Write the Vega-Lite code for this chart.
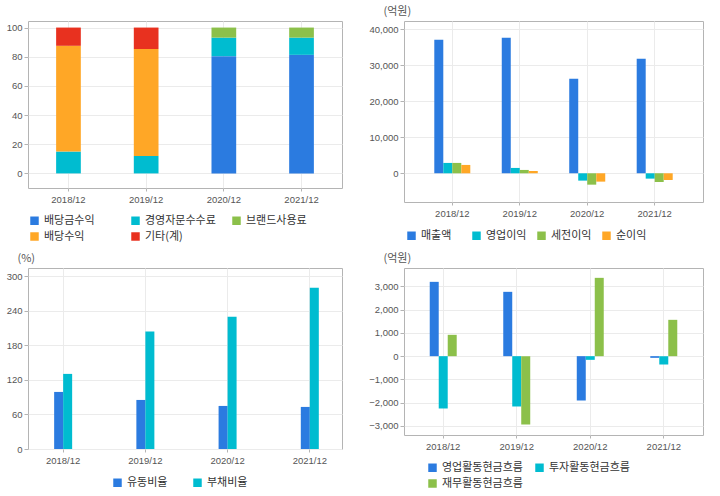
{
  "$schema": "https://vega.github.io/schema/vega-lite/v6.json",
  "background": "white",
  "padding": {"left": 5, "top": 4, "right": 5, "bottom": 0},
  "columns": 2,
  "spacing": {"row": 8, "column": 25},
  "datasets": {
    "rev": [
      {"period": "2018/12", "series": "경영자문수수료", "value": 15.0},
      {"period": "2018/12", "series": "배당수익", "value": 72.5},
      {"period": "2018/12", "series": "기타(계)", "value": 12.5},
      {"period": "2019/12", "series": "경영자문수수료", "value": 12.0},
      {"period": "2019/12", "series": "배당수익", "value": 73.3},
      {"period": "2019/12", "series": "기타(계)", "value": 14.7},
      {"period": "2020/12", "series": "배당금수익", "value": 80.4},
      {"period": "2020/12", "series": "경영자문수수료", "value": 12.7},
      {"period": "2020/12", "series": "브랜드사용료", "value": 6.9},
      {"period": "2021/12", "series": "배당금수익", "value": 81.3},
      {"period": "2021/12", "series": "경영자문수수료", "value": 11.8},
      {"period": "2021/12", "series": "브랜드사용료", "value": 6.9}
    ],
    "pl": [
      {"period": "2018/12", "series": "매출액", "value": 37120},
      {"period": "2018/12", "series": "영업이익", "value": 2880},
      {"period": "2018/12", "series": "세전이익", "value": 2880},
      {"period": "2018/12", "series": "순이익", "value": 2320},
      {"period": "2019/12", "series": "매출액", "value": 37680},
      {"period": "2019/12", "series": "영업이익", "value": 1485},
      {"period": "2019/12", "series": "세전이익", "value": 930},
      {"period": "2019/12", "series": "순이익", "value": 650},
      {"period": "2020/12", "series": "매출액", "value": 26260},
      {"period": "2020/12", "series": "영업이익", "value": -2040},
      {"period": "2020/12", "series": "세전이익", "value": -3160},
      {"period": "2020/12", "series": "순이익", "value": -2320},
      {"period": "2021/12", "series": "매출액", "value": 31830},
      {"period": "2021/12", "series": "영업이익", "value": -1485},
      {"period": "2021/12", "series": "세전이익", "value": -2410},
      {"period": "2021/12", "series": "순이익", "value": -1860}
    ],
    "ratio": [
      {"period": "2018/12", "series": "유동비율", "value": 99.0},
      {"period": "2018/12", "series": "부채비율", "value": 130.3},
      {"period": "2019/12", "series": "유동비율", "value": 85.1},
      {"period": "2019/12", "series": "부채비율", "value": 203.9},
      {"period": "2020/12", "series": "유동비율", "value": 74.7},
      {"period": "2020/12", "series": "부채비율", "value": 229.3},
      {"period": "2021/12", "series": "유동비율", "value": 73.0},
      {"period": "2021/12", "series": "부채비율", "value": 279.7}
    ],
    "cf": [
      {"period": "2018/12", "series": "영업활동현금흐름", "value": 3193},
      {"period": "2018/12", "series": "투자활동현금흐름", "value": -2248},
      {"period": "2018/12", "series": "재무활동현금흐름", "value": 917},
      {"period": "2019/12", "series": "영업활동현금흐름", "value": 2764},
      {"period": "2019/12", "series": "투자활동현금흐름", "value": -2162},
      {"period": "2019/12", "series": "재무활동현금흐름", "value": -2936},
      {"period": "2020/12", "series": "영업활동현금흐름", "value": -1905},
      {"period": "2020/12", "series": "투자활동현금흐름", "value": -158},
      {"period": "2020/12", "series": "재무활동현금흐름", "value": 3365},
      {"period": "2021/12", "series": "영업활동현금흐름", "value": -72},
      {"period": "2021/12", "series": "투자활동현금흐름", "value": -358},
      {"period": "2021/12", "series": "재무활동현금흐름", "value": 1561}
    ]
  },
  "concat": [
    {
      "width": 314, "height": 167,
      "data": {"name": "rev"},
      "transform": [{"calculate": "indexof(['배당금수익', '경영자문수수료', '브랜드사용료', '배당수익', '기타(계)'], datum.series)", "as": "stackOrder"}],
      "mark": {"type": "bar"},
      "encoding": {
        "x": {"field": "period", "type": "nominal", "scale": {"paddingInner": 0.682, "paddingOuter": 0.362}, "axis": {"title": null, "grid": true, "labelAngle": 0}},
        "y": {"field": "value", "type": "quantitative", "stack": "zero", "scale": {"domain": [-10, 104.5], "nice": false, "zero": false}, "axis": {"title": null, "values": [0, 20, 40, 60, 80, 100]}},
        "order": {"field": "stackOrder", "type": "quantitative", "sort": "ascending"},
        "color": {"field": "series", "type": "nominal", "sort": ["배당금수익", "경영자문수수료", "브랜드사용료", "배당수익", "기타(계)"],
          "scale": {"domain": ["배당금수익", "경영자문수수료", "브랜드사용료", "배당수익", "기타(계)"], "range": ["#2b7be0", "#00bcd0", "#8cc04a", "#ffa726", "#e8311f"]},
          "legend": {"columns": 3, "legendX": 1, "legendY": 194, "columnPadding": 15}}
      }
    },
    {
      "width": 299, "height": 181,
      "data": {"name": "pl"},
      "mark": {"type": "bar"},
      "encoding": {
        "x": {"field": "period", "type": "nominal", "scale": {"paddingInner": 0.4664, "paddingOuter": 0.449}, "axis": {"title": null, "grid": true, "labelAngle": 0}},
        "xOffset": {"field": "series", "type": "nominal", "sort": ["매출액", "영업이익", "세전이익", "순이익"]},
        "y": {"field": "value", "type": "quantitative", "scale": {"domain": [-7980, 42320], "nice": false, "zero": false}, "axis": {"title": "(억원)", "values": [0, 10000, 20000, 30000, 40000], "format": ",d"}},
        "color": {"field": "series", "type": "nominal", "sort": ["매출액", "영업이익", "세전이익", "순이익"],
          "scale": {"domain": ["매출액", "영업이익", "세전이익", "순이익"], "range": ["#2b7be0", "#00bcd0", "#8cc04a", "#ffa726"]},
          "legend": {"columns": 4, "legendX": 2, "legendY": 209, "columnPadding": 9}}
      }
    },
    {
      "width": 314, "height": 181,
      "data": {"name": "ratio"},
      "mark": {"type": "bar"},
      "encoding": {
        "x": {"field": "period", "type": "nominal", "scale": {"paddingInner": 0.781, "paddingOuter": 0.3, "align": 0.53}, "axis": {"title": null, "grid": true, "labelAngle": 0}},
        "xOffset": {"field": "series", "type": "nominal", "sort": ["유동비율", "부채비율"]},
        "y": {"field": "value", "type": "quantitative", "scale": {"domain": [0, 314], "nice": false, "zero": false}, "axis": {"title": "(%)", "values": [0, 60, 120, 180, 240, 300], "titleX": -11}},
        "color": {"field": "series", "type": "nominal", "sort": ["유동비율", "부채비율"],
          "scale": {"domain": ["유동비율", "부채비율"], "range": ["#2b7be0", "#00bcd0"]},
          "legend": {"columns": 2, "legendX": 84, "legendY": 209, "columnPadding": 24}}
      }
    },
    {
      "width": 299, "height": 167,
      "data": {"name": "cf"},
      "mark": {"type": "bar"},
      "encoding": {
        "x": {"field": "period", "type": "nominal", "scale": {"paddingInner": 0.633, "paddingOuter": 0.35}, "axis": {"title": null, "grid": true, "labelAngle": 0}},
        "xOffset": {"field": "series", "type": "nominal", "sort": ["영업활동현금흐름", "투자활동현금흐름", "재무활동현금흐름"]},
        "y": {"field": "value", "type": "quantitative", "scale": {"domain": [-3387, 3788], "nice": false, "zero": false}, "axis": {"title": "(억원)", "values": [-3000, -2000, -1000, 0, 1000, 2000, 3000], "format": ",d"}},
        "color": {"field": "series", "type": "nominal", "sort": ["영업활동현금흐름", "투자활동현금흐름", "재무활동현금흐름"],
          "scale": {"domain": ["영업활동현금흐름", "투자활동현금흐름", "재무활동현금흐름"], "range": ["#2b7be0", "#00bcd0", "#8cc04a"]},
          "legend": {"columns": 2, "legendX": 23, "legendY": 194, "columnPadding": 11}}
      }
    }
  ],
  "resolve": {"scale": {"color": "independent", "x": "independent", "y": "independent", "xOffset": "independent"}, "legend": {"color": "independent"}},
  "config": {
    "font": "Liberation Sans, Noto Sans CJK KR",
    "view": {"stroke": "#b4b4b4", "strokeWidth": 1},
    "bar": {"stroke": null},
    "axis": {
      "labelFont": "Liberation Sans", "labelFontSize": 9.5, "labelColor": "#555555",
      "gridColor": "#ebebeb", "domain": false, "tickColor": "#b4b4b4", "tickSize": 4, "labelPadding": 2,
      "titleFont": "Noto Sans CJK KR", "titleFontSize": 11, "titleFontWeight": "normal", "titleColor": "#555555",
      "titleAngle": 0, "titleAlign": "left", "titleBaseline": "middle", "titleX": -21, "titleY": -10
    },
    "axisX": {"tickSize": 3, "labelPadding": 3},
    "legend": {
      "orient": "none", "direction": "horizontal", "title": null, "symbolType": "square", "symbolSize": 72,
      "symbolStrokeWidth": 0, "labelFont": "Noto Sans CJK KR", "labelFontSize": 11, "labelColor": "#333333",
      "labelOffset": 4, "rowPadding": 4, "gridAlign": "all"
    }
  }
}
